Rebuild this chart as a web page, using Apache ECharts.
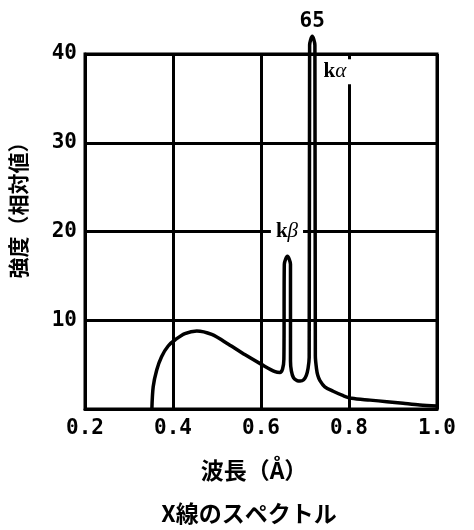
<!DOCTYPE html>
<html>
<head>
<meta charset="utf-8">
<script src="https://cdn.jsdelivr.net/npm/echarts@6/dist/echarts.min.js"></script>
<style>
html, body { margin: 0; padding: 0; background: #fff; }
#chart { width: 474px; height: 530px; }
</style>
</head>
<body>
<div id="chart"></div>
<script>
// X線のスペクトル: 連続X線 + kβ / kα 特性線
const wavelength = [
  0.352, 0.355, 0.363, 0.374, 0.389, 0.405, 0.427, 0.454, 0.488, 0.526,
  0.564, 0.602, 0.632, 0.643, 0.649, 0.652, 0.653, 0.660, 0.667, 0.667,
  0.669, 0.674, 0.682, 0.689, 0.697, 0.703, 0.707, 0.7095, 0.7105, 0.7165,
  0.7225, 0.7235, 0.726, 0.729, 0.734, 0.745, 0.764, 0.787, 0.806, 0.848,
  0.886, 0.923, 0.961, 1.0
]
const intensity = [
  0, 2.5, 4.4, 5.9, 7.1, 7.8, 8.5, 8.8, 8.4, 7.3,
  6.1, 5.0, 4.2, 4.1, 4.5, 5.6, 16.3, 17.2, 16.3, 5.4,
  4.3, 3.5, 3.2, 3.15, 3.3, 3.8, 4.6, 5.8, 41.0, 42.0,
  41.0, 6.0, 4.6, 3.8, 3.2, 2.5, 2.0, 1.5, 1.2, 1.0,
  0.83, 0.64, 0.45, 0.33
]
const xTicks = [0.2, 0.4, 0.6, 0.8, 1.0]
const yTicks = [0, 10, 20, 30, 40]
const peakNames = ['kβ', 'kα']
const kaPeakValue = 65

const serif = 'Liberation Serif'
const mono = 'DejaVu Sans Mono'

const chart = echarts.init(document.getElementById('chart'))
chart.setOption({
  backgroundColor: '#fff',
  animation: false,
  grid: {
    left: 85,
    top: 54,
    width: 352,
    height: 355,
    show: true,
    borderColor: '#000',
    borderWidth: 3,
    backgroundColor: 'transparent'
  },
  xAxis: {
    type: 'value',
    min: xTicks[0],
    max: xTicks[xTicks.length - 1],
    interval: 0.2,
    axisLine: { show: true, onZero: false, lineStyle: { color: '#000', width: 3 } },
    axisTick: { show: false },
    splitLine: { show: true, lineStyle: { color: '#000', width: 3 } },
    axisLabel: {
      margin: 9,
      color: '#000',
      fontFamily: mono,
      fontWeight: 'bold',
      fontSize: 21,
      formatter: v => v.toFixed(1)
    }
  },
  yAxis: {
    type: 'value',
    min: yTicks[0],
    max: yTicks[yTicks.length - 1],
    interval: 10,
    axisLine: { show: true, lineStyle: { color: '#000', width: 3 } },
    axisTick: { show: false },
    splitLine: { show: true, lineStyle: { color: '#000', width: 3 } },
    axisLabel: {
      margin: 8,
      color: '#000',
      fontFamily: mono,
      fontWeight: 'bold',
      fontSize: 21,
      showMinLabel: false
    }
  },
  series: [{
    type: 'line',
    data: wavelength.map((w, i) => [w, intensity[i]]),
    showSymbol: false,
    symbol: 'none',
    clip: false,
    smooth: 0.3,
    lineStyle: { color: '#000', width: 3.5, join: 'round', cap: 'round' },
    markPoint: {
      symbol: 'rect',
      symbolSize: 0,
      data: [{
        coord: [0.7165, 40],
        label: {
          formatter: String(kaPeakValue),
          offset: [0, -32],
          fontFamily: mono,
          fontWeight: 'bold',
          fontSize: 21,
          color: '#000'
        }
      }, {
        coord: [0.659, 20],
        label: {
          formatter: '{k|' + peakNames[0][0] + '}{g|' + peakNames[0][1] + '}',
          backgroundColor: '#fff',
          padding: [3, 5, 3, 5]
        }
      }, {
        coord: [0.770, 38],
        label: {
          formatter: '{k|' + peakNames[1][0] + '}{g|' + peakNames[1][1] + '}',
          backgroundColor: '#fff',
          padding: [2, 6, 2, 4]
        }
      }],
      label: {
        show: true,
        position: 'inside',
        color: '#000',
        rich: {
          k: { fontFamily: serif, fontWeight: 'bold', fontSize: 21, color: '#000' },
          g: { fontFamily: serif, fontStyle: 'italic', fontSize: 21, color: '#000' }
        }
      }
    }
  }],
  graphic: [{
    type: 'text',
    x: 18,
    y: 205,
    rotation: Math.PI / 2,
    style: {
      text: '強度（相対値）',
      font: 'bold 21px "Noto Sans CJK JP"',
      fill: '#000',
      align: 'center',
      verticalAlign: 'middle',
      textAlign: 'center',
      textVerticalAlign: 'middle'
    }
  }, {
    type: 'text',
    x: 254,
    y: 470,
    style: {
      text: '波長（Å）',
      font: 'bold 23px "Noto Sans CJK JP"',
      fill: '#000',
      align: 'center',
      verticalAlign: 'middle',
      textAlign: 'center',
      textVerticalAlign: 'middle'
    }
  }, {
    type: 'text',
    x: 249,
    y: 513,
    style: {
      text: 'X線のスペクトル',
      font: 'bold 23px "Noto Sans CJK JP"',
      fill: '#000',
      align: 'center',
      verticalAlign: 'middle',
      textAlign: 'center',
      textVerticalAlign: 'middle'
    }
  }]
})
</script>
</body>
</html>
